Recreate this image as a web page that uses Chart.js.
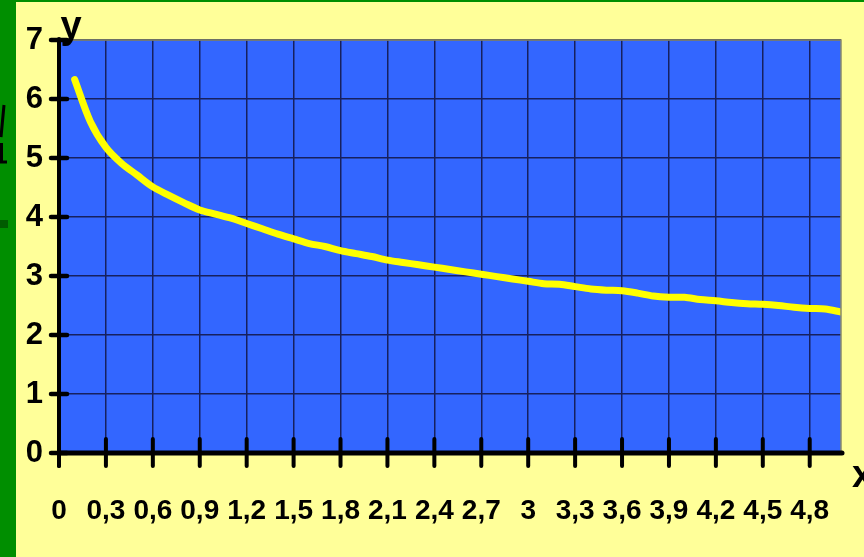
<!DOCTYPE html>
<html>
<head>
<meta charset="utf-8">
<script src="https://cdn.jsdelivr.net/npm/chart.js@4.4.0/dist/chart.umd.min.js"></script>
<style>
  html, body { margin: 0; padding: 0; background: #ffff99; }
  canvas { display: block; }
</style>
</head>
<body>
<canvas id="grafik" width="864" height="557"></canvas>
<script>
// nilai x (0,1 .. 5,0) dan y dibaca dari gambar
const xValues = [0.1, 0.2, 0.3, 0.4, 0.5, 0.6, 0.7, 0.8, 0.9, 1.0,
  1.1, 1.2, 1.3, 1.4, 1.5, 1.6, 1.7, 1.8, 1.9, 2.0,
  2.1, 2.2, 2.3, 2.4, 2.5, 2.6, 2.7, 2.8, 2.9, 3.0,
  3.1, 3.2, 3.3, 3.4, 3.5, 3.6, 3.7, 3.8, 3.9, 4.0,
  4.1, 4.2, 4.3, 4.4, 4.5, 4.6, 4.7, 4.8, 4.9, 5.0];
const yValues = [6.33, 5.62, 5.18, 4.91, 4.71, 4.51, 4.37, 4.24, 4.12, 4.05,
  3.98, 3.89, 3.80, 3.71, 3.63, 3.55, 3.50, 3.43, 3.38, 3.33,
  3.27, 3.23, 3.19, 3.15, 3.11, 3.07, 3.03, 2.99, 2.95, 2.91,
  2.87, 2.86, 2.82, 2.78, 2.76, 2.75, 2.71, 2.66, 2.64, 2.64,
  2.60, 2.58, 2.55, 2.53, 2.52, 2.50, 2.47, 2.45, 2.44, 2.39];
const xTickValues = [0, 0.3, 0.6, 0.9, 1.2, 1.5, 1.8, 2.1, 2.4, 2.7,
  3, 3.3, 3.6, 3.9, 4.2, 4.5, 4.8];
const yTickValues = [0, 1, 2, 3, 4, 5, 6, 7];

const FONT = "'Liberation Sans', Arial, sans-serif";

// latar: kuning, strip hijau kiri, area plot biru
const latar = {
  id: "latar",
  beforeDraw(chart) {
    const { ctx, chartArea: a, width, height } = chart;
    ctx.save();
    ctx.fillStyle = "#ffff99";
    ctx.fillRect(0, 0, width, height);
    ctx.fillStyle = "#008e00";
    ctx.fillRect(0, 0, 16, height);
    ctx.fillRect(0, 0, width, 2);
    // potongan huruf di strip hijau
    ctx.strokeStyle = "#000";
    ctx.lineWidth = 3;
    ctx.beginPath();
    ctx.moveTo(4, 105);
    ctx.lineTo(1, 137);
    ctx.moveTo(1.5, 143);
    ctx.lineTo(1.5, 162);
    ctx.lineTo(7, 162);
    ctx.stroke();
    ctx.fillStyle = "#005c00";
    ctx.fillRect(0, 220, 8, 8);
    ctx.fillStyle = "#3366ff";
    ctx.fillRect(a.left, a.top, a.right - a.left, a.bottom - a.top);
    ctx.restore();
  },
};

// sumbu hitam, tanda tick dan huruf x / y
const sumbu = {
  id: "sumbu",
  afterDatasetsDraw(chart) {
    const { ctx, chartArea: a, scales } = chart;
    const sx = scales.x, sy = scales.y;
    const x0 = sx.getPixelForValue(0);
    const y0 = sy.getPixelForValue(0);
    ctx.save();
    ctx.strokeStyle = "#8a8a6a";
    ctx.lineWidth = 1.5;
    ctx.beginPath();
    ctx.moveTo(a.left, a.top);
    ctx.lineTo(a.right, a.top);
    ctx.lineTo(a.right, a.bottom);
    ctx.stroke();

    ctx.strokeStyle = "#000";
    ctx.lineCap = "round";
    ctx.lineWidth = 4;
    ctx.beginPath();
    ctx.moveTo(x0, a.top - 1);
    ctx.lineTo(x0, y0 + 13);
    ctx.stroke();
    ctx.lineWidth = 5;
    ctx.beginPath();
    ctx.moveTo(x0, y0);
    ctx.lineTo(a.right + 1, y0);
    ctx.stroke();

    ctx.lineWidth = 4.5;
    yTickValues.forEach((v) => {
      const py = sy.getPixelForValue(v);
      ctx.beginPath();
      ctx.moveTo(x0 - 8, py);
      ctx.lineTo(x0 + 8, py);
      ctx.stroke();
    });
    ctx.lineWidth = 4;
    xTickValues.forEach((v) => {
      const px = sx.getPixelForValue(v);
      ctx.beginPath();
      ctx.moveTo(px, y0 - 14);
      ctx.lineTo(px, y0 + 13);
      ctx.stroke();
    });

    ctx.fillStyle = "#000";
    ctx.font = "bold 38px " + FONT;
    ctx.textAlign = "center";
    ctx.textBaseline = "alphabetic";
    ctx.fillText("y", x0 + 12, 38);
    ctx.textAlign = "left";
    ctx.fillText("x", 852, 487);
    ctx.restore();
  },
};

const points = xValues.map((x, i) => ({ x: x, y: yValues[i] }));

new Chart(document.getElementById("grafik").getContext("2d"), {
  type: "line",
  data: {
    datasets: [
      {
        data: points,
        borderColor: "#ffff00",
        borderWidth: 7,
        borderCapStyle: "round",
        borderJoinStyle: "round",
        pointRadius: 0,
        tension: 0.3,
        clip: 0,
      },
    ],
  },
  options: {
    responsive: false,
    animation: false,
    layout: { padding: { top: 40, right: 23, bottom: 0, left: 0 } },
    plugins: { legend: { display: false }, tooltip: { enabled: false } },
    scales: {
      x: {
        type: "linear",
        min: 0,
        max: 5,
        afterBuildTicks: (scale) => {
          scale.ticks = xTickValues.map((v) => ({ value: v }));
        },
        afterFit: (scale) => {
          scale.height = 104;
        },
        grid: {
          color: "#17205e",
          lineWidth: 1.5,
          drawTicks: true,
          tickLength: 41,
          tickColor: "rgba(0,0,0,0)",
        },
        border: { display: false },
        ticks: {
          autoSkip: false,
          maxRotation: 0,
          padding: 0,
          color: "#000",
          font: { family: FONT, size: 28, weight: "bold" },
          callback: (value) => String(value).replace(".", ","),
        },
      },
      y: {
        min: 0,
        max: 7,
        afterBuildTicks: (scale) => {
          scale.ticks = yTickValues.map((v) => ({ value: v }));
        },
        afterFit: (scale) => {
          scale.width = 59;
        },
        grid: {
          color: "#17205e",
          lineWidth: 1.5,
          drawTicks: true,
          tickLength: 16,
          tickColor: "rgba(0,0,0,0)",
        },
        border: { display: false },
        ticks: {
          padding: 0,
          color: "#000",
          font: { family: FONT, size: 31, weight: "bold" },
        },
      },
    },
  },
  plugins: [latar, sumbu],
});
</script>
</body>
</html>
